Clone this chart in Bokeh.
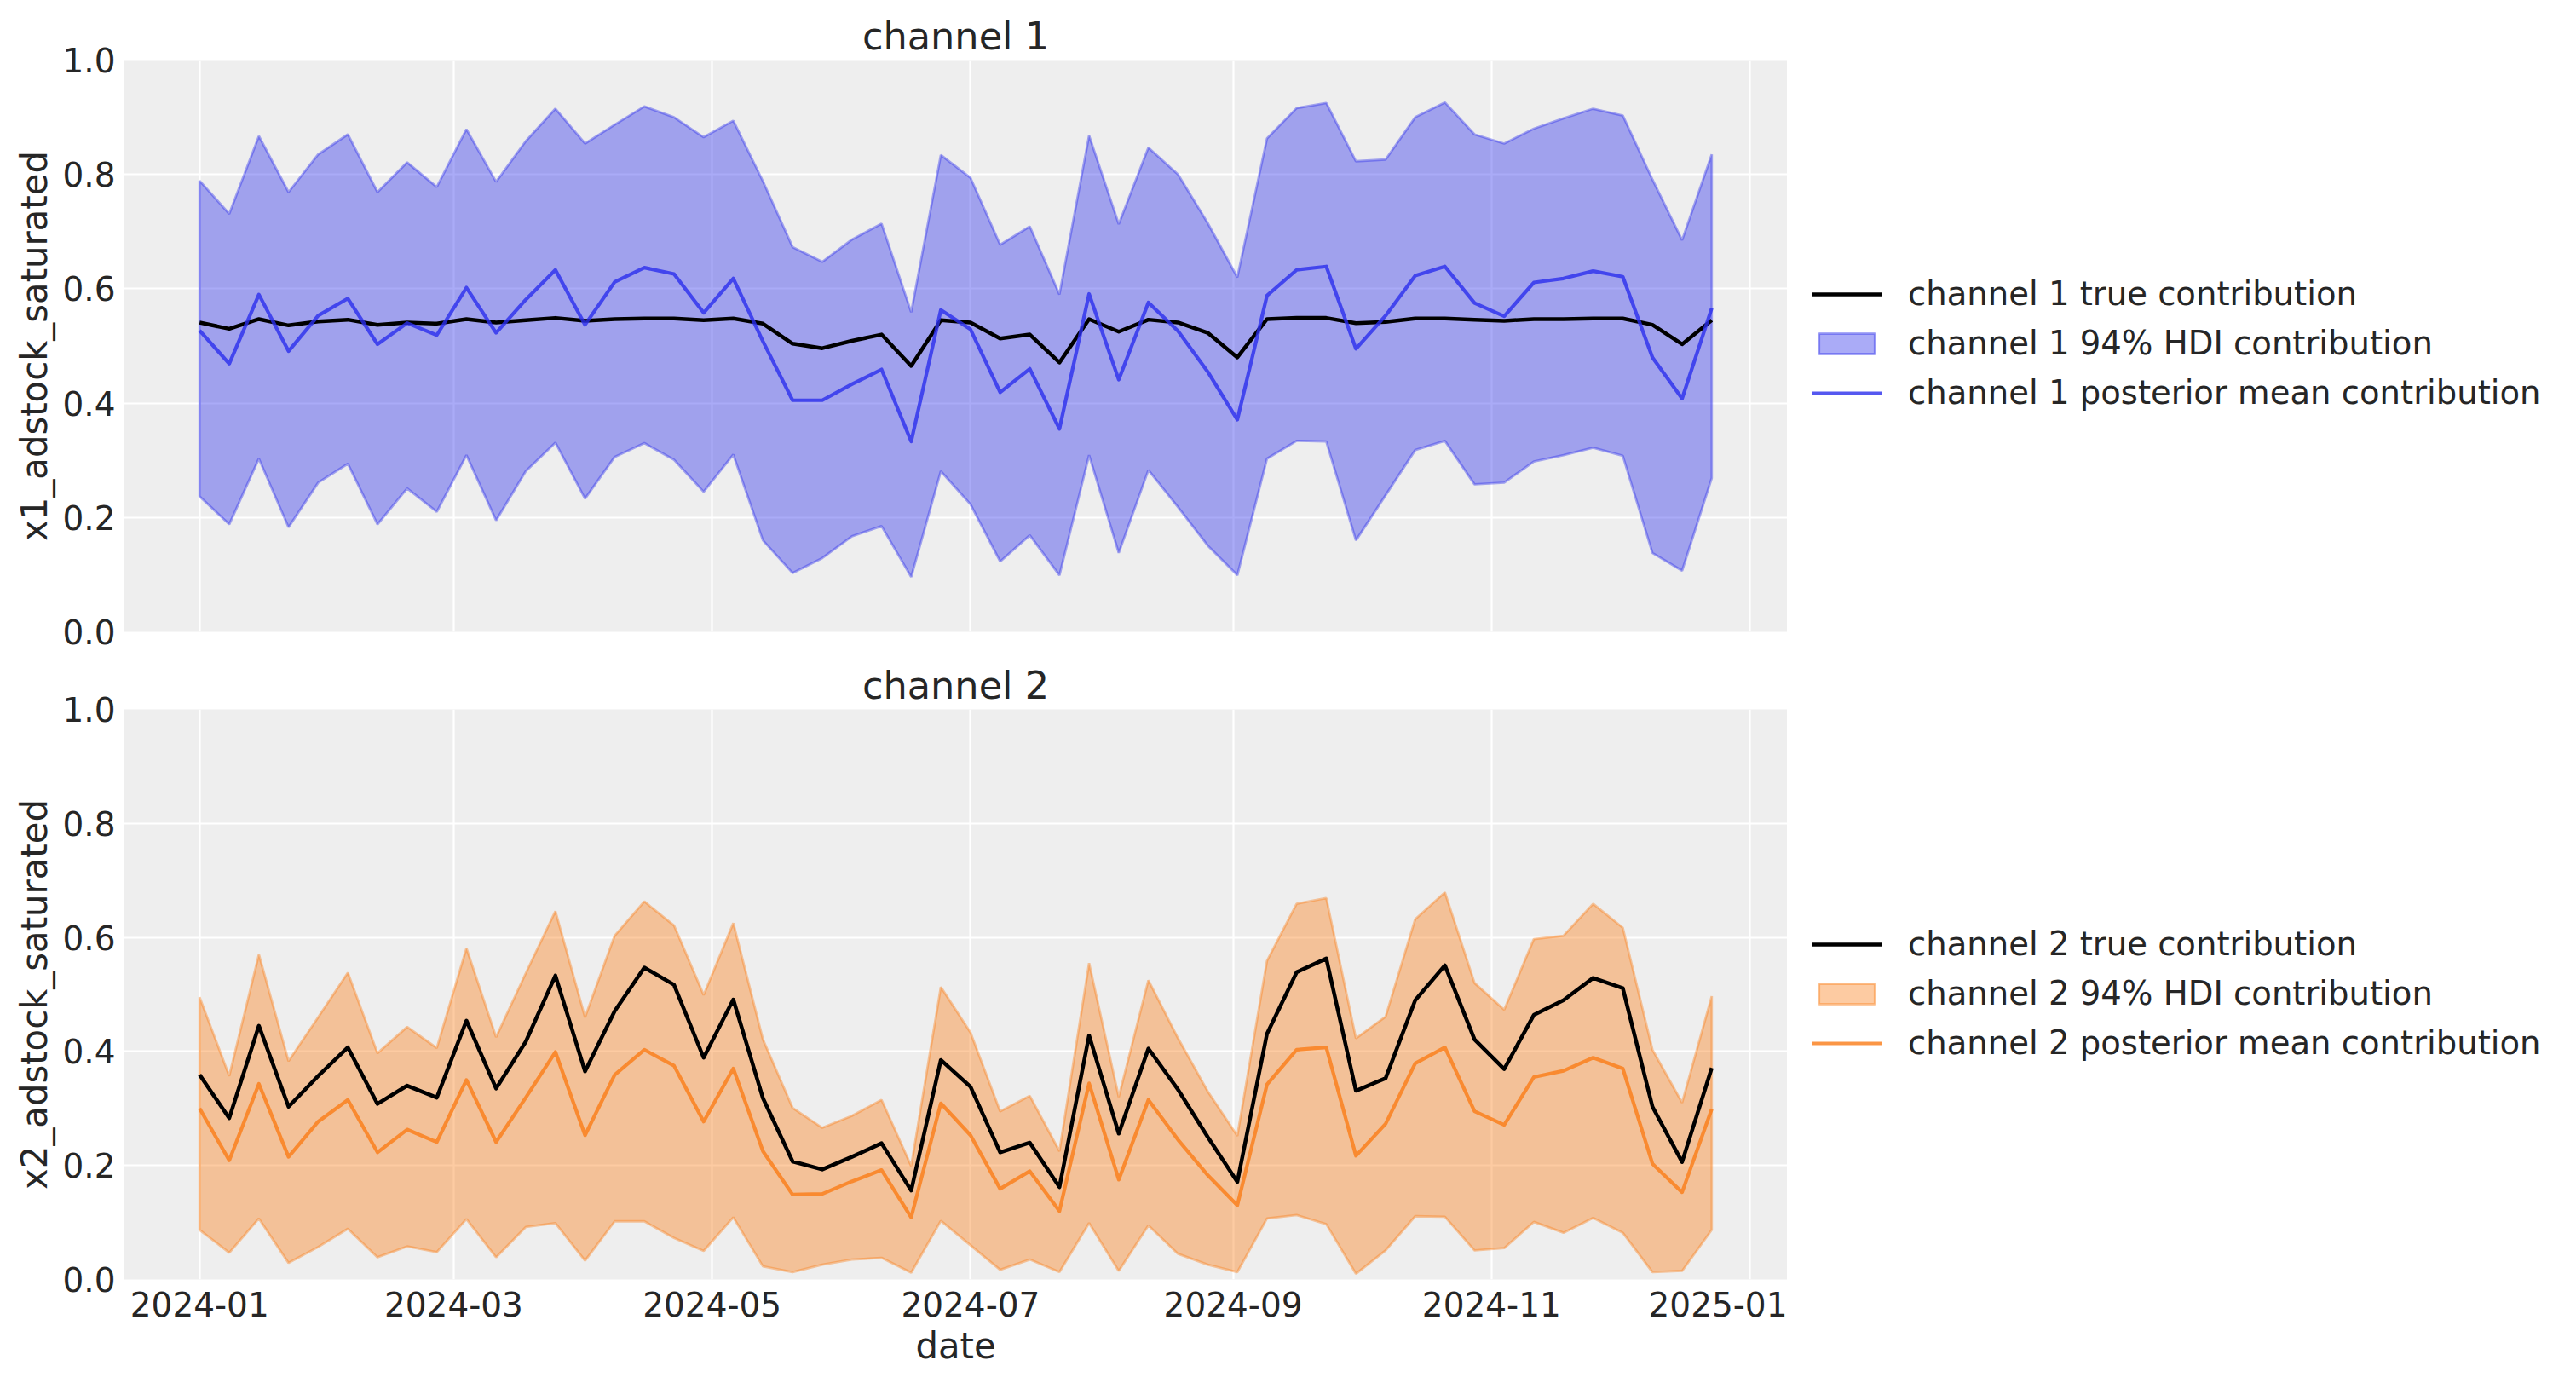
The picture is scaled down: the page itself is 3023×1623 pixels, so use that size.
import numpy as np
import pandas as pd
from bokeh.plotting import figure
from bokeh.models import (Range1d, FixedTicker, DatetimeTickFormatter,
                          PrintfTickFormatter, Legend, LegendItem)
from bokeh.layouts import column, row
from bokeh.embed import file_html
from bokeh.resources import INLINE

# ---------------- data ----------------
dates = pd.date_range("2024-01-01", periods=52, freq="7D")
x_tick_dates = ["2024-01-01", "2024-03-01", "2024-05-01", "2024-07-01",
                "2024-09-01", "2024-11-01", "2025-01-01"]
y_ticks = [0.0, 0.2, 0.4, 0.6, 0.8, 1.0]

ch1_true = [0.541, 0.530, 0.547, 0.536, 0.543, 0.546, 0.537, 0.541, 0.539, 0.547, 0.541, 0.545, 0.549, 0.544, 0.547, 0.548, 0.548, 0.545,
            0.548, 0.539, 0.504, 0.496, 0.509, 0.520, 0.465, 0.545, 0.541, 0.513, 0.520, 0.471, 0.547, 0.525, 0.546, 0.541, 0.523, 0.480, 0.547,
            0.549, 0.549, 0.540, 0.542, 0.548, 0.548, 0.546, 0.544, 0.547, 0.547, 0.548, 0.548, 0.537, 0.503, 0.545]
ch1_mean = [0.527, 0.469, 0.590, 0.491, 0.553, 0.583, 0.503, 0.540, 0.519, 0.602, 0.523, 0.581, 0.633, 0.537, 0.612, 0.637, 0.626, 0.558,
            0.618, 0.508, 0.405, 0.405, 0.433, 0.459, 0.333, 0.563, 0.529, 0.419, 0.460, 0.355, 0.591, 0.441, 0.576, 0.526, 0.455, 0.371, 0.588,
            0.633, 0.639, 0.495, 0.553, 0.623, 0.639, 0.575, 0.552, 0.611, 0.618, 0.631, 0.621, 0.480, 0.408, 0.566]
ch1_upper = [0.789, 0.731, 0.867, 0.769, 0.835, 0.870, 0.769, 0.821, 0.778, 0.879, 0.787, 0.858, 0.915, 0.854, 0.887, 0.919, 0.900, 0.865,
             0.894, 0.788, 0.673, 0.647, 0.686, 0.714, 0.559, 0.834, 0.794, 0.677, 0.709, 0.590, 0.868, 0.713, 0.847, 0.800, 0.715, 0.620, 0.863,
             0.916, 0.925, 0.823, 0.826, 0.900, 0.926, 0.870, 0.854, 0.880, 0.898, 0.915, 0.903, 0.791, 0.685, 0.835]
ch1_lower = [0.237, 0.188, 0.303, 0.183, 0.261, 0.294, 0.188, 0.251, 0.210, 0.309, 0.195, 0.281, 0.331, 0.233, 0.306, 0.330, 0.301, 0.245,
             0.310, 0.160, 0.103, 0.129, 0.167, 0.185, 0.096, 0.281, 0.223, 0.123, 0.169, 0.099, 0.309, 0.138, 0.283, 0.218, 0.151, 0.099, 0.303,
             0.334, 0.333, 0.160, 0.239, 0.318, 0.334, 0.258, 0.261, 0.298, 0.309, 0.322, 0.308, 0.138, 0.107, 0.269]

ch2_true = [0.359, 0.283, 0.445, 0.303, 0.357, 0.407, 0.308, 0.340, 0.319, 0.454, 0.335, 0.417, 0.533, 0.365, 0.471, 0.547, 0.517, 0.389,
            0.491, 0.318, 0.207, 0.193, 0.215, 0.239, 0.156, 0.385, 0.338, 0.223, 0.240, 0.162, 0.428, 0.256, 0.405, 0.333, 0.250, 0.171, 0.431,
            0.539, 0.563, 0.331, 0.353, 0.490, 0.551, 0.421, 0.369, 0.464, 0.490, 0.529, 0.511, 0.303, 0.206, 0.371]
ch2_mean = [0.300, 0.209, 0.343, 0.215, 0.277, 0.315, 0.223, 0.263, 0.241, 0.350, 0.241, 0.319, 0.399, 0.253, 0.359, 0.403, 0.375, 0.277,
            0.370, 0.225, 0.149, 0.150, 0.172, 0.192, 0.109, 0.309, 0.253, 0.159, 0.190, 0.120, 0.344, 0.175, 0.315, 0.245, 0.183, 0.130, 0.342,
            0.403, 0.407, 0.217, 0.273, 0.379, 0.407, 0.295, 0.271, 0.355, 0.366, 0.389, 0.370, 0.203, 0.153, 0.299]
ch2_upper = [0.495, 0.357, 0.570, 0.383, 0.460, 0.538, 0.397, 0.443, 0.406, 0.581, 0.425, 0.537, 0.646, 0.460, 0.603, 0.663, 0.621, 0.499,
             0.625, 0.421, 0.301, 0.266, 0.287, 0.315, 0.199, 0.513, 0.433, 0.295, 0.322, 0.225, 0.555, 0.320, 0.525, 0.423, 0.330, 0.252, 0.559,
             0.659, 0.669, 0.423, 0.461, 0.632, 0.679, 0.520, 0.473, 0.597, 0.603, 0.659, 0.617, 0.403, 0.310, 0.497]
ch2_lower = [0.087, 0.047, 0.107, 0.029, 0.057, 0.089, 0.039, 0.058, 0.048, 0.106, 0.039, 0.092, 0.099, 0.033, 0.102, 0.102, 0.073, 0.050,
             0.109, 0.023, 0.013, 0.026, 0.035, 0.038, 0.012, 0.103, 0.060, 0.017, 0.035, 0.013, 0.099, 0.015, 0.095, 0.045, 0.026, 0.013, 0.107,
             0.113, 0.097, 0.010, 0.051, 0.111, 0.110, 0.051, 0.055, 0.101, 0.082, 0.108, 0.082, 0.013, 0.015, 0.087]

channel_names = ["channel 1", "channel 2"]
y_labels = ["x1_adstock_saturated", "x2_adstock_saturated"]
colors = ["#2a2eec", "#fa7c17"]

# ---------------- helpers ----------------
FONT = "DejaVu Sans"
TEXT = "#262626"
FRAME_W = 1952
LEG_W = 920

x_ms = dates.values.astype("datetime64[ms]").astype("int64").astype(float)
x_tick_ms = [float(pd.Timestamp(d).value // 10**6) for d in x_tick_dates]
span = x_ms[-1] - x_ms[0]
x_range = Range1d(x_ms[0] - 0.05 * span, x_ms[-1] + 0.05 * span)


def make_panel(name, ylabel, true, lower, upper, mean, color, show_x,
               frame_h, border_top, border_bottom):
    p = figure(x_axis_type="datetime", x_range=x_range, y_range=Range1d(0, 1),
               frame_width=FRAME_W, frame_height=frame_h,
               min_border_left=145, min_border_right=0,
               min_border_top=border_top, min_border_bottom=border_bottom,
               output_backend="svg", toolbar_location=None,
               background_fill_color="#eeeeee", border_fill_color="white")
    p.outline_line_color = None

    p.title.text = name
    p.title.align = "center"
    p.title.text_font = FONT
    p.title.text_font_size = "44.6px"
    p.title.text_font_style = "normal"
    p.title.text_color = TEXT
    p.title.standoff = 4

    p.grid.grid_line_color = "white"
    p.grid.grid_line_width = 2.2
    p.xgrid.ticker = FixedTicker(ticks=x_tick_ms)
    p.ygrid.ticker = FixedTicker(ticks=y_ticks)

    for ax in (p.xaxis, p.yaxis):
        ax.axis_line_color = None
        ax.major_tick_line_color = None
        ax.minor_tick_line_color = None
        ax.major_tick_out = 0
        ax.major_tick_in = 0
        ax.major_label_text_font = FONT
        ax.major_label_text_font_size = "39px"
        ax.major_label_text_color = TEXT
        ax.axis_label_text_font = FONT
        ax.axis_label_text_font_size = "41.8px"
        ax.axis_label_text_font_style = "normal"
        ax.axis_label_text_color = TEXT

    p.yaxis.ticker = FixedTicker(ticks=y_ticks)
    p.yaxis.formatter = PrintfTickFormatter(format="%.1f")
    p.yaxis.major_label_standoff = 10
    p.yaxis.axis_label = ylabel
    p.yaxis.axis_label_standoff = 5

    p.xaxis.ticker = FixedTicker(ticks=x_tick_ms)
    p.xaxis.formatter = DatetimeTickFormatter(days="%Y-%m", months="%Y-%m",
                                              years="%Y-%m", hours="%Y-%m")
    if show_x:
        p.xaxis.axis_label = "date"
        p.xaxis.major_label_standoff = 14
        p.xaxis.axis_label_standoff = 7
    else:
        p.xaxis.visible = False

    p.patch(x=np.concatenate([x_ms, x_ms[::-1]]),
            y=np.concatenate([np.array(upper), np.array(lower)[::-1]]),
            fill_color=color, fill_alpha=0.4,
            line_color=color, line_alpha=0.4, line_width=2.8)
    p.line(x_ms, true, line_color="black", line_width=4.5, line_join="round")
    p.line(x_ms, mean, line_color=color, line_alpha=0.8, line_width=4.2,
           line_join="round")
    return p


def make_legend(name, color, frame_h, border_top, border_bottom, legend_bottom):
    lf = figure(x_range=Range1d(0, 1), y_range=Range1d(0, 1),
                frame_width=LEG_W, frame_height=frame_h,
                min_border_left=0, min_border_right=0,
                min_border_top=border_top, min_border_bottom=border_bottom,
                x_axis_location=None, y_axis_location=None,
                output_backend="svg", toolbar_location=None,
                background_fill_color="white", border_fill_color="white")
    lf.outline_line_color = None
    lf.xgrid.visible = False
    lf.ygrid.visible = False
    # legend swatches only: placed outside the visible range
    s_true = lf.line(x=[5, 6], y=[5, 5], line_color="black", line_width=4.5)
    s_hdi = lf.patch(x=[5, 6, 6], y=[5, 5, 6], fill_color=color, fill_alpha=0.4,
                     line_color=color, line_alpha=0.4, line_width=2.8)
    s_mean = lf.line(x=[5, 6], y=[5, 5], line_color=color, line_alpha=0.8,
                     line_width=4.2)
    legend = Legend(items=[
        LegendItem(label=f"{name} true contribution", renderers=[s_true]),
        LegendItem(label=f"{name} 94% HDI contribution", renderers=[s_hdi]),
        LegendItem(label=f"{name} posterior mean contribution", renderers=[s_mean]),
    ], location=(29, legend_bottom))
    legend.label_text_font = FONT
    legend.label_text_font_size = "38.6px"
    legend.label_text_color = TEXT
    legend.glyph_width = 82
    legend.glyph_height = 30
    legend.label_height = 30
    legend.label_standoff = 31
    legend.spacing = 13
    legend.padding = 10
    legend.margin = 0
    legend.border_line_color = None
    legend.background_fill_alpha = 0
    lf.add_layout(legend, "center")
    return lf


p1 = make_panel(channel_names[0], y_labels[0], ch1_true, ch1_lower, ch1_upper,
                ch1_mean, colors[0], False, 671, 70, 30)
l1 = make_legend(channel_names[0], colors[0], 671, 70, 30, 258)
p2 = make_panel(channel_names[1], y_labels[1], ch2_true, ch2_lower, ch2_upper,
                ch2_mean, colors[1], True, 669, 61, 60)
l2 = make_legend(channel_names[1], colors[1], 669, 61, 10, 255)

layout = column(row(p1, l1), row(p2, l2))
open("out.html", "w").write(file_html(layout, INLINE))
